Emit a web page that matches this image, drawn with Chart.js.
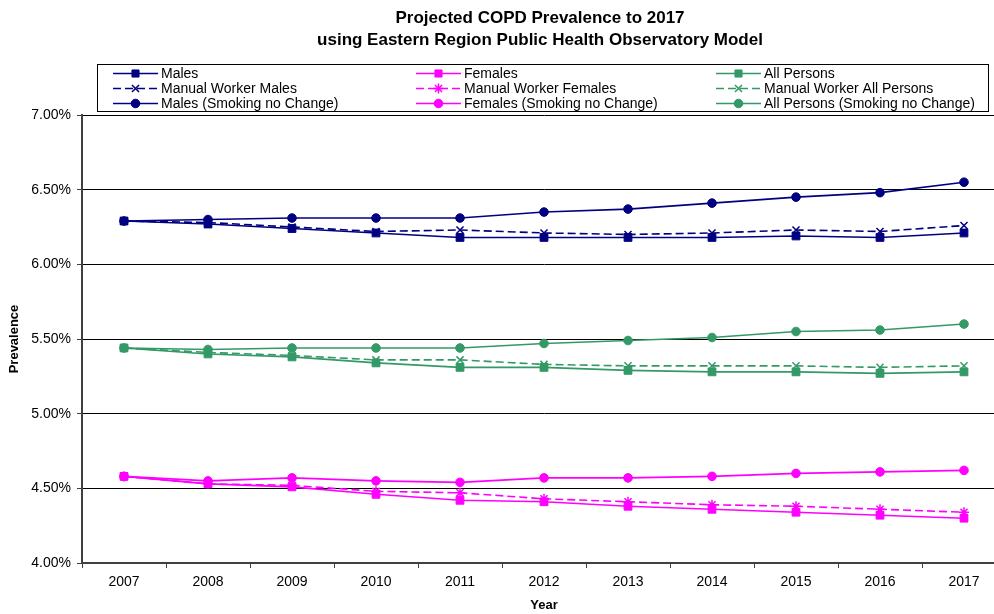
<!DOCTYPE html>
<html>
<head>
<meta charset="utf-8">
<title>Projected COPD Prevalence to 2017</title>
<script src="https://cdn.jsdelivr.net/npm/chart.js@4.4.1/dist/chart.umd.min.js"></script>
<style>
  html, body { margin: 0; padding: 0; background: #fff; }
  #wrap { width: 994px; height: 614px; overflow: hidden; position: relative; }
  #chart { display: block; }
</style>
</head>
<body>
<div id="wrap"><canvas id="chart" width="1080" height="614"></canvas></div>
<script>
// Projection years
const years = ['2007', '2008', '2009', '2010', '2011', '2012', '2013', '2014', '2015', '2016', '2017'];

// Prevalence (%) by group
const males               = [6.29, 6.27, 6.24, 6.21, 6.18, 6.18, 6.18, 6.18, 6.19, 6.18, 6.21];
const females             = [4.58, 4.53, 4.51, 4.46, 4.42, 4.41, 4.38, 4.36, 4.34, 4.32, 4.30];
const allPersons          = [5.44, 5.40, 5.38, 5.34, 5.31, 5.31, 5.29, 5.28, 5.28, 5.27, 5.28];
const manualMales         = [6.29, 6.28, 6.25, 6.22, 6.23, 6.21, 6.20, 6.21, 6.23, 6.22, 6.26];
const manualFemales       = [4.58, 4.53, 4.52, 4.48, 4.47, 4.43, 4.41, 4.39, 4.38, 4.36, 4.34];
const manualAllPersons    = [5.44, 5.41, 5.39, 5.36, 5.36, 5.33, 5.32, 5.32, 5.32, 5.31, 5.32];
const malesNoChange       = [6.29, 6.30, 6.31, 6.31, 6.31, 6.35, 6.37, 6.41, 6.45, 6.48, 6.55];
const femalesNoChange     = [4.58, 4.55, 4.57, 4.55, 4.54, 4.57, 4.57, 4.58, 4.60, 4.61, 4.62];
const allPersonsNoChange  = [5.44, 5.43, 5.44, 5.44, 5.44, 5.47, 5.49, 5.51, 5.55, 5.56, 5.60];

// Y axis range and tick step (%)
const yMin = 4.0, yMax = 7.0, yStep = 0.5;

const NAVY = '#000080', MAGENTA = '#FF00FF', GREEN = '#339966';
const FONT = '"Liberation Sans", Arial, Helvetica, sans-serif';

function series(label, data, color, style, dashed) {
  const isCross = style === 'crossRot' || style === 'star';
  const r = style === 'rect' ? 5.5 : (isCross ? 5 : 4.3);
  return {
    label, data,
    borderColor: color,
    backgroundColor: color,
    borderWidth: 1.6,
    borderDash: dashed ? [8, 4] : [],
    pointStyle: style,
    pointRadius: r,
    pointHoverRadius: r,
    pointBorderWidth: isCross ? 1.5 : 1,
    pointBackgroundColor: color,
    pointBorderColor: color,
    tension: 0,
    fill: false
  };
}

const datasets = [
  series('Males', males, NAVY, 'rect', false),
  series('Females', females, MAGENTA, 'rect', false),
  series('All Persons', allPersons, GREEN, 'rect', false),
  series('Manual Worker Males', manualMales, NAVY, 'crossRot', true),
  series('Manual Worker Females', manualFemales, MAGENTA, 'star', true),
  series('Manual Worker All Persons', manualAllPersons, GREEN, 'crossRot', true),
  series('Males (Smoking no Change)', malesNoChange, NAVY, 'circle', false),
  series('Females (Smoking no Change)', femalesNoChange, MAGENTA, 'circle', false),
  series('All Persons (Smoking no Change)', allPersonsNoChange, GREEN, 'circle', false)
];
// later series sit on top of earlier ones
datasets.forEach((d, i) => { d.order = datasets.length - i; });

// Boxed three-column legend drawn between the title and the plot
const boxedLegend = {
  id: 'boxedLegend',
  afterDraw(chart) {
    const ctx = chart.ctx;
    const box = { x: 97.5, y: 64.5, w: 891, h: 47 };
    const colX = [113, 416, 716];
    const rowY = [73.5, 88.5, 103.5];
    const sampleLen = 45;
    ctx.save();
    ctx.fillStyle = '#fff';
    ctx.fillRect(box.x, box.y, box.w, box.h);
    ctx.strokeStyle = '#000';
    ctx.lineWidth = 1;
    ctx.strokeRect(box.x, box.y, box.w, box.h);
    ctx.font = '14px ' + FONT;
    ctx.textBaseline = 'middle';
    ctx.textAlign = 'left';
    chart.data.datasets.forEach((ds, i) => {
      const col = i % 3, row = Math.floor(i / 3);
      const x0 = colX[col], y = rowY[row];
      ctx.strokeStyle = ds.borderColor;
      ctx.lineWidth = ds.borderWidth;
      ctx.setLineDash(ds.borderDash || []);
      ctx.beginPath();
      ctx.moveTo(x0, y);
      ctx.lineTo(x0 + sampleLen, y);
      ctx.stroke();
      ctx.setLineDash([]);
      ctx.fillStyle = ds.pointBackgroundColor;
      ctx.lineWidth = ds.pointBorderWidth;
      Chart.helpers.drawPoint(ctx, {
        pointStyle: ds.pointStyle,
        radius: ds.pointStyle === 'rect' ? 5 : ds.pointRadius,
        borderWidth: ds.pointBorderWidth,
        rotation: 0
      }, x0 + sampleLen / 2, y);
      ctx.fillStyle = '#000';
      ctx.fillText(ds.label, x0 + sampleLen + 3, y + 0.5);
    });
    ctx.restore();
  }
};

new Chart(document.getElementById('chart'), {
  type: 'line',
  data: { labels: years, datasets },
  plugins: [boxedLegend],
  options: {
    responsive: false,
    animation: false,
    devicePixelRatio: 1,
    layout: { padding: 0 },
    plugins: {
      legend: { display: false },
      tooltip: { enabled: false },
      title: {
        display: true,
        text: ['Projected COPD Prevalence to 2017', 'using Eastern Region Public Health Observatory Model'],
        color: '#000',
        font: { family: FONT, size: 17, weight: 'bold', lineHeight: 22 / 17 },
        padding: { top: 7, bottom: 64 }
      }
    },
    scales: {
      x: {
        type: 'category',
        offset: true,
        grid: { display: true, offset: true, drawOnChartArea: false, drawTicks: true, tickLength: 5, color: '#404040' },
        border: { display: true, color: '#404040', width: 2 },
        ticks: { color: '#000', font: { family: FONT, size: 14 }, padding: 6, maxRotation: 0, autoSkip: false },
        title: { display: true, text: 'Year', color: '#000', font: { family: FONT, size: 13, weight: 'bold' }, padding: { top: 0, bottom: 1 } },
        afterFit(scale) { scale.height = 51; }
      },
      y: {
        min: yMin, max: yMax,
        grid: { color: '#000', lineWidth: 1, drawTicks: true, tickLength: 5, tickColor: '#404040' },
        border: { display: true, color: '#404040', width: 2 },
        ticks: {
          stepSize: yStep,
          color: '#000',
          font: { family: FONT, size: 14 },
          padding: 6,
          callback: v => Number(v).toFixed(2) + '%'
        },
        title: { display: true, text: 'Prevalence', color: '#000', font: { family: FONT, size: 13, weight: 'bold' }, padding: { top: 7, bottom: 0 } },
        afterFit(scale) { scale.width = 82; }
      },
      // empty margin on the right so the plot runs past the visible edge
      yRight: {
        position: 'right',
        min: yMin, max: yMax,
        grid: { drawOnChartArea: false, drawTicks: false },
        border: { display: false },
        ticks: { display: false },
        afterFit(scale) { scale.width = 74; }
      }
    }
  }
});
</script>
</body>
</html>
